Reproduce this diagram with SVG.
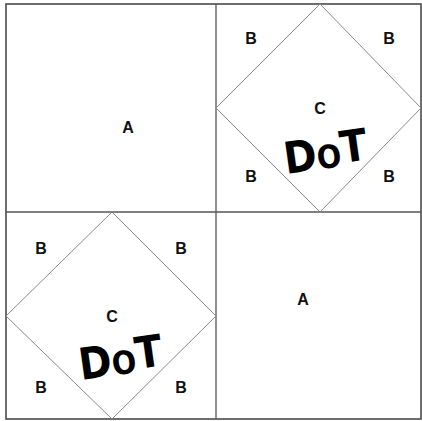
<svg xmlns="http://www.w3.org/2000/svg" width="422" height="421" viewBox="0 0 422 421">
<style>
.frame{fill:none;stroke:#4a4a4a;stroke-width:1.6}
.grid{fill:none;stroke:#555;stroke-width:1.3}
.dia{fill:none;stroke:#8a8a8a;stroke-width:1}
.lbl{font-family:"Liberation Sans",Arial,sans-serif;font-size:16px;fill:#111;text-anchor:middle;font-weight:bold}
.dot{font-family:"DejaVu Sans","Liberation Sans",sans-serif;font-weight:bold;font-size:44px;fill:#000}
</style>
<rect width="422" height="421" fill="#fff"/>
<g id="connectors">
<rect class="frame" x="6" y="4" width="415" height="415"/>
<line class="grid" x1="216" y1="4" x2="216" y2="419"/>
<line class="grid" x1="6" y1="212" x2="421" y2="212"/>
</g>
<g id="cell-tl">
<text class="lbl" x="128" y="133">A</text>
</g>
<g id="cell-tr">
<polygon class="dia" points="320,4 421,108 320,212 216,108"/>
<text class="lbl" x="251" y="44">B</text>
<text class="lbl" x="389" y="44">B</text>
<text class="lbl" x="320" y="114">C</text>
<text class="lbl" x="251" y="182">B</text>
<text class="lbl" x="389" y="182">B</text>
<text class="dot" transform="translate(286,174) rotate(-8) scale(0.9,1)">D<tspan font-size="32">O</tspan><tspan dy="-3">T</tspan></text>
</g>
<g id="cell-bl">
<polygon class="dia" points="112,212 216,316 112,419 6,316"/>
<text class="lbl" x="41" y="254">B</text>
<text class="lbl" x="181" y="254">B</text>
<text class="lbl" x="112" y="322">C</text>
<text class="lbl" x="41" y="393">B</text>
<text class="lbl" x="181" y="393">B</text>
<text class="dot" transform="translate(81,380) rotate(-8) scale(0.9,1)">D<tspan font-size="32">O</tspan><tspan dy="-3">T</tspan></text>
</g>
<g id="cell-br">
<text class="lbl" x="303" y="305">A</text>
</g>
</svg>
